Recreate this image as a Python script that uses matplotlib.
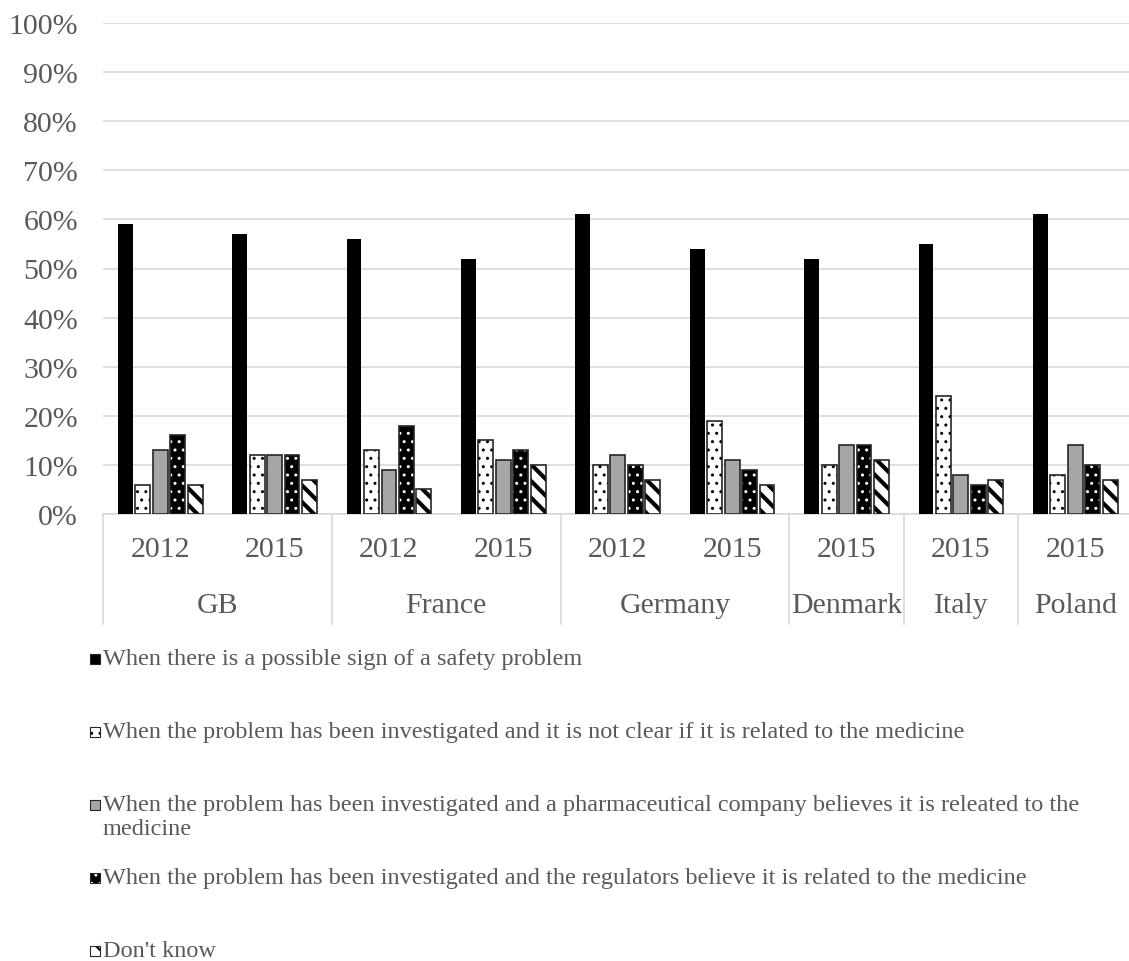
import matplotlib
matplotlib.use("Agg")
import matplotlib.pyplot as plt
from matplotlib.patches import Rectangle
from matplotlib.ticker import FuncFormatter
import numpy as np

# survey: when should the public be told about a possible side effect?
countries = ["GB", "France", "Germany", "Denmark", "Italy", "Poland"]
years = ["2012", "2015", "2012", "2015", "2012", "2015", "2015", "2015", "2015"]
years_per_country = [2, 2, 2, 1, 1, 1]

possible_sign = [59, 57, 56, 52, 61, 54, 52, 55, 61]
not_clear = [6, 12, 13, 15, 10, 19, 10, 24, 8]
company_believes = [13, 12, 9, 11, 12, 11, 14, 8, 14]
regulators_believe = [16, 12, 18, 13, 10, 9, 14, 6, 10]
dont_know = [6, 7, 5, 10, 7, 6, 11, 7, 7]

labels = [
    "When there is a possible sign of a safety problem",
    "When the problem has been investigated and it is not clear if it is related to the medicine",
    "When the problem has been investigated and a pharmaceutical company believes it is releated to the\nmedicine",
    "When the problem has been investigated and the regulators believe it is related to the medicine",
    "Don't know",
]
series = [possible_sign, not_clear, company_believes, regulators_believe, dont_know]

# fill, hatch colour, hatch, hatch line width
styles = [
    dict(face="black", hatchc="black", hatch=None, hlw=1.0),
    dict(face="white", hatchc="black", hatch="..", hlw=1.0),
    dict(face="#a6a6a6", hatchc="#404040", hatch=None, hlw=1.0),
    dict(face="black", hatchc="white", hatch="..", hlw=1.0),
    dict(face="white", hatchc="black", hatch="\\\\", hlw=3.0),
]

TEXT = "#595959"
GRID = "#d9d9d9"
FONT = "Liberation Serif"

W, H = 1129, 962
fig = plt.figure(figsize=(W / 100, H / 100), dpi=100)
ax = fig.add_axes([103 / W, 1 - 515 / H, (1132.5 - 103) / W, (515 - 24) / H])

x = np.arange(len(years))
pitch = 0.1526
width = 0.13

for k, (vals, st) in enumerate(zip(series, styles)):
    pos = x + (k - 2) * pitch
    plt.rcParams["hatch.linewidth"] = st["hlw"]
    ax.bar(pos, vals, width, color=st["face"], edgecolor=st["hatchc"],
           hatch=st["hatch"], linewidth=0, zorder=3)
    if k > 0:
        # outline drawn separately so the hatch can keep its own colour
        ax.bar(pos, vals, width, fill=False, edgecolor="#262626",
               linewidth=1.2, zorder=4)

ax.set_xlim(-0.5, len(years) - 0.5)
ax.set_ylim(0, 100)
ax.set_yticks(np.arange(0, 101, 10))
ax.yaxis.set_major_formatter(FuncFormatter(lambda v, p: f"{v:.0f}%"))
ax.tick_params(axis="y", length=0, pad=18, labelsize=21.5, labelcolor=TEXT)
for t in ax.get_yticklabels():
    t.set_fontfamily(FONT)
ax.set_xticks([])
ax.grid(axis="y", color=GRID, linewidth=1.2, zorder=0)
for side in ["top", "right", "left"]:
    ax.spines[side].set_visible(False)
ax.spines["bottom"].set_color(GRID)
ax.spines["bottom"].set_linewidth(1.2)

# two-level category axis
trans = ax.get_xaxis_transform()
depth = (625 - 515) / (515 - 24)
for xi, yr in zip(x, years):
    ax.text(xi, -0.071, yr, transform=trans, ha="center", va="center",
            fontsize=21.5, color=TEXT, family=FONT)
edges = np.concatenate([[0], np.cumsum(years_per_country)]) - 0.5
for e in edges:
    ax.plot([e, e], [0, -depth], transform=trans, color=GRID, lw=1.2,
            clip_on=False)
for c, a, b in zip(countries, edges[:-1], edges[1:]):
    ax.text((a + b) / 2, -0.185, c, transform=trans, ha="center", va="center",
            fontsize=21.5, color=TEXT, family=FONT)

# legend stacked under the chart
rows = [660, 733, 806, 879, 952]
for lab, st, yc in zip(labels, styles, rows):
    plt.rcParams["hatch.linewidth"] = min(st["hlw"], 1.5)
    fig.add_artist(Rectangle((90 / W, 1 - (yc + 5) / H), 10 / W, 10 / H,
                             transform=fig.transFigure, facecolor=st["face"],
                             edgecolor=st["hatchc"], hatch=st["hatch"],
                             linewidth=0))
    fig.add_artist(Rectangle((90 / W, 1 - (yc + 5) / H), 10 / W, 10 / H,
                             transform=fig.transFigure, fill=False,
                             edgecolor="#262626", linewidth=0.8))
    fig.text(103 / W, 1 - (yc - 11) / H, lab, ha="left", va="top",
             fontsize=17.5, color=TEXT, family=FONT, linespacing=1.2)

fig.savefig("out.png", dpi=100)
